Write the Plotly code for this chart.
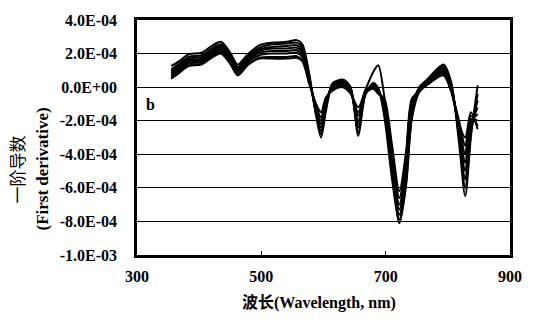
import plotly.graph_objects as go

# Wavelength sample points (nm)
WAVELENGTH = [355, 368, 383, 404, 420, 435, 450, 462, 478, 497, 517, 541, 557, 566,
              577, 588, 596, 604, 615, 631, 643, 656, 667, 680, 688, 698, 710, 722, 733,
              742, 754, 769, 793, 805, 818, 828, 837, 848]

# First-derivative spectra, in units of 1e-4
SPEC_01 = [1.25, 1.55, 1.95, 2.05, 2.45, 2.7, 2.05, 1.35, 1.95, 2.5, 2.65, 2.7, 2.8, 2.55,
           0.8, -1.7, -3.0, -1.4, 0.2, 0.45, 0.05, -2.9, -0.5, 0.25, -0.05, -1.8, -5.4, -8.1, -5.6,
           -1.8, -0.1, 0.55, 1.35, 0.35, -3.3, -6.5, -3.0, 0.1]
SPEC_02 = [1.05, 1.4, 1.8, 1.9, 2.3, 2.55, 1.9, 1.2, 1.85, 2.35, 2.55, 2.6, 2.65, 2.4,
           0.65, -1.6, -2.8, -1.25, 0.25, 0.4, 0.0, -2.7, -0.45, 0.2, -0.1, -1.5, -5.0, -7.9, -5.2,
           -1.5, 0.0, 0.5, 1.25, 0.25, -3.0, -6.0, -2.8, -0.4]
SPEC_03 = [0.95, 1.3, 1.7, 1.8, 2.2, 2.45, 1.8, 1.1, 1.75, 2.25, 2.4, 2.45, 2.5, 2.25,
           0.55, -1.5, -2.6, -1.1, 0.2, 0.35, -0.05, -2.4, -0.4, 0.15, -0.15, -1.2, -4.6, -7.6, -4.9,
           -1.3, -0.05, 0.45, 1.15, 0.15, -2.8, -5.5, -2.5, -0.8]
SPEC_04 = [0.85, 1.2, 1.6, 1.7, 2.1, 2.35, 1.7, 1.0, 1.65, 2.15, 2.3, 2.3, 2.35, 2.1,
           0.5, -1.4, -2.4, -1.0, 0.15, 0.3, -0.1, -2.2, -0.35, 0.1, -0.2, -1.0, -4.3, -7.3, -4.6,
           -1.1, -0.1, 0.4, 1.05, 0.05, -2.6, -5.0, -2.3, -1.2]
SPEC_05 = [0.75, 1.1, 1.5, 1.6, 2.0, 2.25, 1.6, 0.9, 1.55, 2.05, 2.15, 2.15, 2.2, 1.95,
           0.45, -1.3, -2.2, -0.9, 0.05, 0.25, -0.15, -2.0, -0.3, 0.05, -0.25, -0.9, -4.0, -7.0, -4.3,
           -0.9, -0.15, 0.35, 0.95, -0.05, -2.4, -4.5, -2.1, -1.6]
SPEC_06 = [0.65, 1.0, 1.4, 1.5, 1.9, 2.15, 1.5, 0.8, 1.45, 1.9, 2.0, 2.0, 2.05, 1.8,
           0.4, -1.2, -2.0, -0.8, 0.0, 0.2, -0.2, -1.7, -0.3, 0.0, -0.3, -0.8, -3.7, -6.6, -4.0,
           -0.8, -0.2, 0.3, 0.85, -0.1, -2.2, -4.0, -1.9, -2.0]
SPEC_07 = [0.5, 0.85, 1.25, 1.35, 1.75, 2.0, 1.4, 0.7, 1.3, 1.75, 1.8, 1.8, 1.85, 1.6,
           0.3, -1.1, -1.8, -0.7, -0.1, 0.1, -0.3, -1.5, -0.35, -0.1, -0.4, -0.7, -3.4, -6.2, -3.8,
           -0.7, -0.25, 0.2, 0.7, -0.2, -2.0, -3.5, -1.7, -2.3]
SPEC_08 = [0.55, 0.9, 1.3, 1.4, 1.8, 2.05, 1.4, 0.75, 1.35, 1.7, 1.7, 1.7, 1.75, 1.55,
           0.2, -1.0, -1.5, -0.6, -0.2, 0.0, -0.35, -1.2, -0.2, 0.9, 1.3, -0.6, -4.2, -8.1, -5.8,
           -1.9, -0.3, 0.2, 0.75, -0.2, -2.2, -3.0, -1.5, -2.5]

SPECTRA = [SPEC_01, SPEC_02, SPEC_03, SPEC_04, SPEC_05, SPEC_06, SPEC_07, SPEC_08]
SCALE = 1e-4

Y_TICKS = [4e-4, 2e-4, 0.0, -2e-4, -4e-4, -6e-4, -8e-4, -1e-3]
Y_TICK_LABELS = ["4.0E-04", "2.0E-04", "0.0E+00", "-2.0E-04", "-4.0E-04",
                 "-6.0E-04", "-8.0E-04", "-1.0E-03"]
X_TICKS = [300, 500, 700, 900]
X_TICK_LABELS = ["300", "500", "700", "900"]

SERIF = "Liberation Serif"
CJK = "Noto Sans CJK SC"

fig = go.Figure()
for spec in SPECTRA:
    fig.add_trace(go.Scatter(
        x=WAVELENGTH,
        y=[v * SCALE for v in spec],
        mode="lines",
        line=dict(color="black", width=2, shape="spline", smoothing=0.8),
        showlegend=False,
        hoverinfo="skip",
    ))

tick_font = dict(family=SERIF, size=16, color="black", weight="bold")

fig.update_layout(
    width=534, height=323,
    margin=dict(l=137, r=16, t=17, b=68),
    paper_bgcolor="white", plot_bgcolor="white",
    font=dict(family=SERIF, size=16, color="black"),
    xaxis=dict(
        range=[300, 900], tickvals=X_TICKS, ticktext=X_TICK_LABELS,
        ticks="inside", ticklen=4, tickcolor="black",
        showgrid=False, zeroline=False,
        showline=True, linecolor="black", linewidth=2.5, mirror=True,
        tickfont=tick_font, ticklabelstandoff=5,
    ),
    yaxis=dict(
        range=[-1e-3, 4e-4], tickvals=Y_TICKS, ticktext=Y_TICK_LABELS,
        ticks="", showgrid=True, gridcolor="black", gridwidth=1,
        zeroline=False,
        showline=True, linecolor="black", linewidth=2.5, mirror=True,
        tickfont=tick_font, ticklabelstandoff=14,
    ),
)

# Axis titles
fig.add_annotation(
    xref="paper", yref="paper", x=0.5, y=-0.197, yanchor="middle",
    text="<span style='font-family:Noto Sans CJK SC'>波长</span>(Wavelength, nm)",
    showarrow=False, font=dict(family=SERIF, size=16, color="black", weight="bold"),
    xshift=-5,
)
fig.add_annotation(
    xref="paper", yref="paper", x=0, y=0.5, xanchor="center", yanchor="middle",
    text="一阶导数", textangle=-90, showarrow=False,
    font=dict(family=CJK, size=17, color="black"),
    xshift=-121, yshift=-32,
)
fig.add_annotation(
    xref="paper", yref="paper", x=0, y=0.5, xanchor="center", yanchor="middle",
    text="(First derivative)", textangle=-90, showarrow=False,
    font=dict(family=SERIF, size=17, color="black", weight="bold"),
    xshift=-95, yshift=-32,
)

# Panel label
fig.add_annotation(
    x=322, y=-1.05e-4, xref="x", yref="y",
    text="b", showarrow=False,
    font=dict(family=SERIF, size=16, color="black", weight="bold"),
)

fig.write_html("out.html")
